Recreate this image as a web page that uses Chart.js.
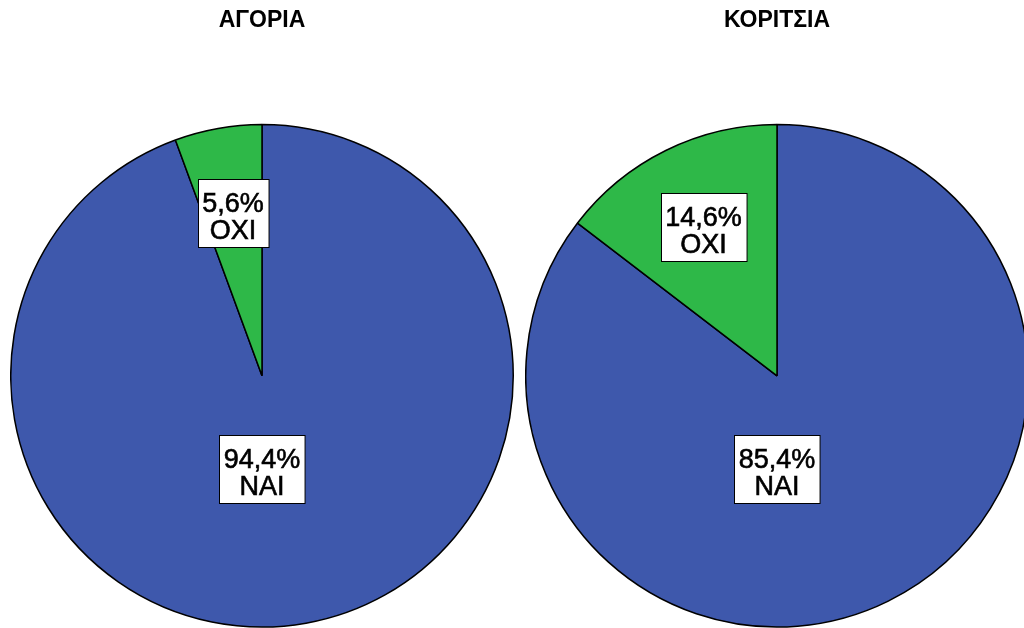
<!DOCTYPE html>
<html>
<head>
<meta charset="utf-8">
<script src="https://cdn.jsdelivr.net/npm/chart.js@4"></script>
<style>
  html, body { margin: 0; padding: 0; background: #fff; }
  body { width: 1024px; height: 628px; overflow: hidden; position: relative; }
  .pie { position: absolute; top: 0; }
</style>
</head>
<body>
<canvas id="boys" class="pie" width="504" height="628" style="left:10px"></canvas>
<canvas id="girls" class="pie" width="504" height="628" style="left:525px"></canvas>
<script>
// ================= DATA =================
const groups = ["ΑΓΟΡΙΑ", "ΚΟΡΙΤΣΙΑ"];
const answers = ["ΝΑΙ", "ΟΧΙ"];
const boysPct = [94.4, 5.6];
const girlsPct = [85.4, 14.6];

const colors = ["#3E58AC", "#2EB848"];

// ================= FORMAT =================
function pct(v) {
  return v.toFixed(1).replace(".", ",") + "%";
}

// ================= LABEL BOXES =================
const boxLabels = {
  id: "boxLabels",
  afterDatasetsDraw(chart) {
    const ctx = chart.ctx;
    const ds = chart.data.datasets[0];
    const total = ds.data.reduce((a, b) => a + b, 0);
    const fontSize = 27;
    const lineH = 27;

    chart.getDatasetMeta(0).data.forEach((arc, i) => {
      const p = arc.getProps(["x", "y", "startAngle", "endAngle", "outerRadius"], true);
      const share = ds.data[i] / total;
      let cx, cy;
      if (share < 0.5) {
        const mid = (p.startAngle + p.endAngle) / 2;
        cx = p.x + Math.cos(mid) * p.outerRadius * 0.66;
        cy = p.y + Math.sin(mid) * p.outerRadius * 0.66;
      } else {
        cx = p.x;
        cy = p.y + p.outerRadius * 0.37;
      }

      const lines = [pct(ds.data[i]), chart.data.labels[i]];
      ctx.save();
      ctx.font = fontSize + "px 'Liberation Sans', Arial, sans-serif";
      const w = Math.max(...lines.map(t => ctx.measureText(t).width)) + 9;
      const h = 68;
      const left = Math.round(cx - w / 2) + 0.5;
      const top = Math.round(cy - h / 2) + 0.5;

      ctx.fillStyle = "#fff";
      ctx.fillRect(left, top, w, h);
      ctx.strokeStyle = "#000";
      ctx.lineWidth = 1;
      ctx.strokeRect(left, top, w, h);

      // slightly heavier text like the reference rendering
      ctx.fillStyle = "#000";
      ctx.strokeStyle = "#000";
      ctx.lineWidth = 0.6;
      ctx.textAlign = "center";
      ctx.textBaseline = "alphabetic";
      lines.forEach((t, k) => {
        ctx.fillText(t, cx, top + 32 + k * lineH);
        ctx.strokeText(t, cx, top + 32 + k * lineH);
      });
      ctx.restore();
    });
  }
};

// ================= CHART =================
function makePie(id, title, values) {
  return new Chart(document.getElementById(id), {
    type: "pie",
    data: {
      labels: answers,
      datasets: [{
        data: values,
        backgroundColor: colors,
        borderColor: "#000",
        borderWidth: 1.5
      }]
    },
    options: {
      responsive: false,
      animation: false,
      events: [],
      layout: { padding: 0 },
      plugins: {
        legend: { display: false },
        tooltip: { enabled: false },
        title: {
          display: true,
          text: title,
          color: "#000",
          font: { family: "'Liberation Sans', Arial, sans-serif", size: 23, weight: "bold", lineHeight: 1.2 },
          padding: { top: 7, bottom: 89 }
        }
      }
    },
    plugins: [boxLabels]
  });
}

makePie("boys", groups[0], boysPct);
makePie("girls", groups[1], girlsPct);
</script>
</body>
</html>
